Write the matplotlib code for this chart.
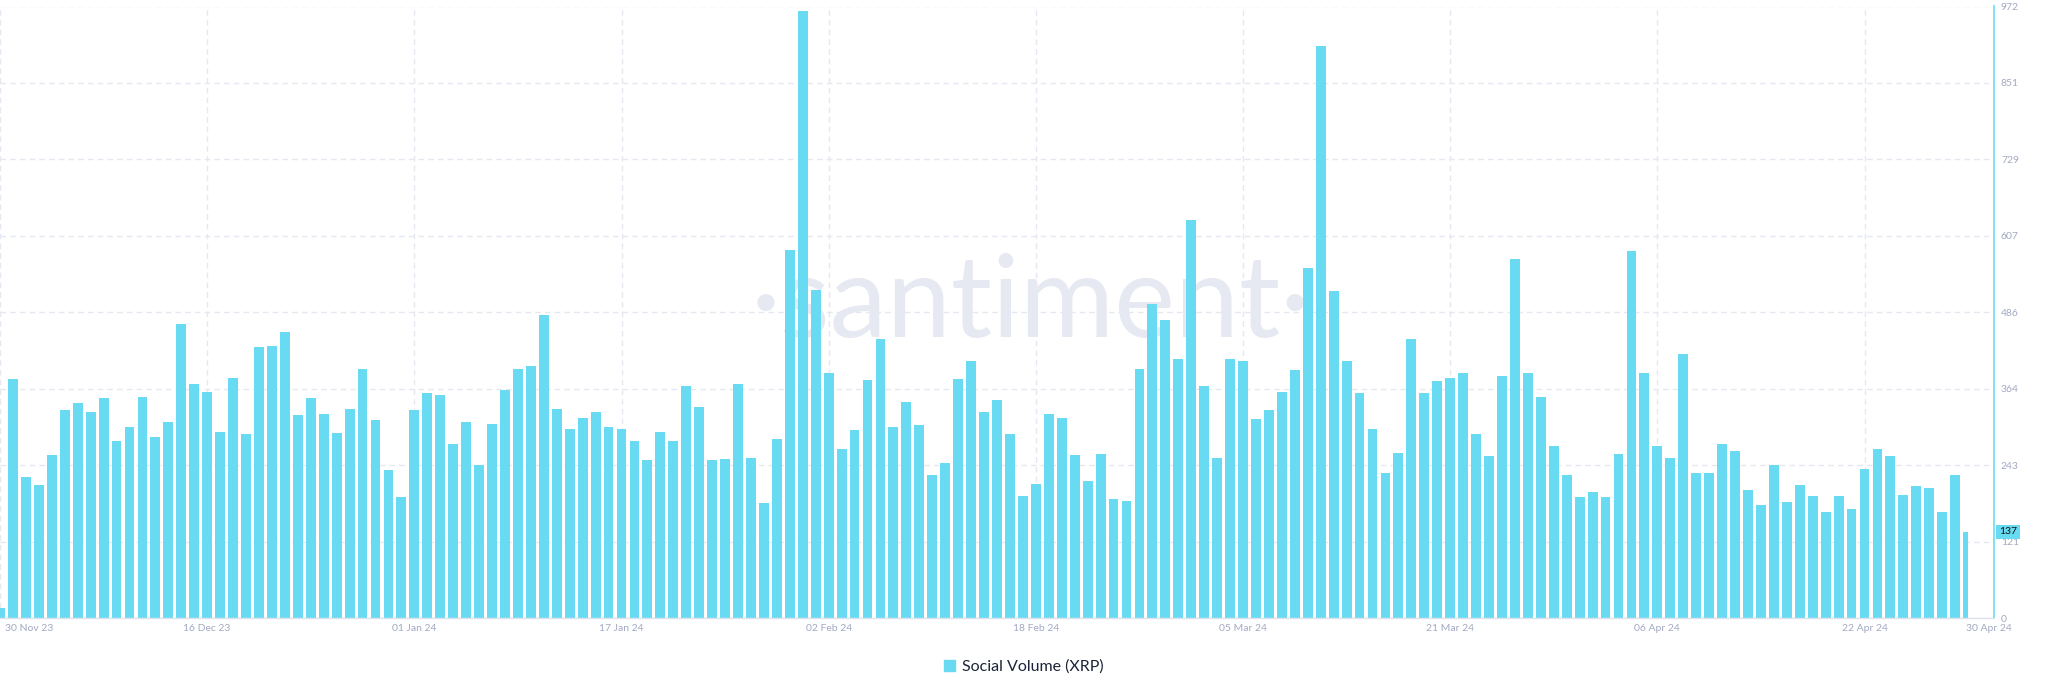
import numpy as np
import pandas as pd
import matplotlib
matplotlib.use('Agg')
import matplotlib.pyplot as plt
from matplotlib.transforms import ScaledTranslation
from matplotlib.patches import Patch

# ---------------- data ----------------
start_date = '2023-11-30'
end_date = '2024-04-30'
social_volume = [
    16, 380, 224, 211, 259, 331, 342, 327, 350, 282,
    303, 352, 287, 311, 467, 372, 359, 296, 381, 293,
    430, 432, 454, 323, 350, 325, 294, 333, 396, 315,
    236, 192, 330, 357, 354, 276, 311, 243, 309, 362,
    395, 401, 482, 333, 301, 318, 328, 304, 300, 282,
    251, 296, 282, 368, 335, 251, 253, 372, 255, 183,
    285, 585, 965, 521, 389, 268, 299, 379, 444, 304,
    343, 307, 227, 246, 380, 408, 327, 346, 292, 194,
    213, 325, 318, 259, 218, 261, 189, 186, 395, 499,
    473, 411, 632, 368, 255, 412, 408, 317, 330, 359,
    394, 556, 909, 519, 408, 358, 300, 230, 263, 444,
    358, 377, 381, 389, 292, 257, 385, 570, 389, 351,
    273, 227, 193, 201, 193, 260, 583, 389, 273, 254,
    419, 230, 231, 277, 265, 204, 180, 243, 185, 212,
    194, 169, 194, 173, 237, 268, 257, 196, 210, 207,
    168, 227, 137,
]
tick_dates = ['2023-11-30', '2023-12-16', '2024-01-01', '2024-01-17',
              '2024-02-02', '2024-02-18', '2024-03-05', '2024-03-21',
              '2024-04-06', '2024-04-22', '2024-04-30']
tick_labels = ['30 Nov 23', '16 Dec 23', '01 Jan 24', '17 Jan 24',
               '02 Feb 24', '18 Feb 24', '05 Mar 24', '21 Mar 24',
               '06 Apr 24', '22 Apr 24', '30 Apr 24']
y_max = 972
y_ticks = [0, 121.5, 243, 364.5, 486, 607.5, 729, 850.5, 972]
y_tick_labels = ['0', '121', '243', '364', '486', '607', '729', '851', '972']
latest_label = '137'
series_name = 'Social Volume (XRP)'
brand = 'santiment'

# ---------------- style ----------------
BAR = '#68dbf3'
GRID = '#e5e7f1'
TICK = '#a2a9c2'
WM = '#e6e8f2'
W, H = 2048, 693

plt.rcParams['font.family'] = ['Lato', 'DejaVu Sans']
plt.rcParams['lines.scale_dashes'] = False

dates = pd.date_range(start_date, end_date, freq='D')
tdates = pd.to_datetime(tick_dates)

fig = plt.figure(figsize=(W / 100, H / 100), dpi=100)
ax = fig.add_axes([0, (H - 618) / H, 1994 / W, (618 - 6.5) / H])

bar_w = 0.76
widths = np.full(len(dates), bar_w)
widths[-1] = bar_w / 2  # latest (partial) day
lefts = dates - pd.Timedelta(days=bar_w / 2)
ax.bar(lefts, social_volume, width=widths, align='edge', color=BAR,
       edgecolor='none', zorder=1)

ax.set_xlim(dates[0] + pd.Timedelta(hours=1), dates[-1] + pd.Timedelta(days=2))
ax.set_ylim(0, y_max)

# grid
ax.set_axisbelow(True)
ax.yaxis.grid(True, color=GRID, lw=1.0, linestyle=(0, (4, 3)))
for d in tdates[:-1]:
    ax.axvline(d, color=GRID, lw=1.0, linestyle=(0, (4, 3)), zorder=0.5)

# watermark, sized so that the word spans ~500 px
renderer = fig.canvas.get_renderer()
probe = fig.text(0, 0, brand, fontsize=100)
pw = probe.get_window_extent(renderer).width
probe.remove()
wm_size = 100 * 500 / pw
ax.text(0.517, 0.4595, '\u00b7' + brand + '\u00b7', transform=ax.transAxes, ha='center',
        va='baseline', fontsize=wm_size, color=WM, zorder=0.6)

# spines
for s in ['top', 'left']:
    ax.spines[s].set_visible(False)
ax.spines['bottom'].set_color('#dfe2ec')
ax.spines['bottom'].set_linewidth(1.0)
ax.spines['right'].set_color(BAR)
ax.spines['right'].set_linewidth(1.2)

# ticks
ax.set_xticks(tdates)
ax.set_xticklabels(tick_labels)
ax.tick_params(axis='x', length=0, pad=4, labelsize=7.5, colors=TICK)
ax.yaxis.tick_right()
ax.set_yticks(y_ticks)
ax.set_yticklabels(y_tick_labels)
ax.tick_params(axis='y', length=0, pad=5, labelsize=7.5, colors=TICK)

xl = ax.get_xticklabels()
xl[0].set_ha('left')
xl[0].set_transform(xl[0].get_transform() + ScaledTranslation(5 / 100, 0, fig.dpi_scale_trans))
xl[-1].set_transform(xl[-1].get_transform() + ScaledTranslation(21 / 100, 0, fig.dpi_scale_trans))

# latest value marker
ax.text(1.0, social_volume[-1], latest_label,
        transform=ax.get_yaxis_transform() + ScaledTranslation(5 / 100, 0, fig.dpi_scale_trans),
        ha='left', va='center', fontsize=7.5, color='#111111', zorder=5, clip_on=False,
        bbox=dict(boxstyle='square,pad=0.25', fc=BAR, ec='none'))

# legend
fig.legend(handles=[Patch(color=BAR, label=series_name)], loc='center',
           bbox_to_anchor=(1024 / W, 1 - 667 / H), frameon=False, fontsize=11.5,
           handlelength=0.65, handleheight=0.65, handletextpad=0.45,
           labelcolor='#1b2437')

fig.savefig('out.png', dpi=100)
